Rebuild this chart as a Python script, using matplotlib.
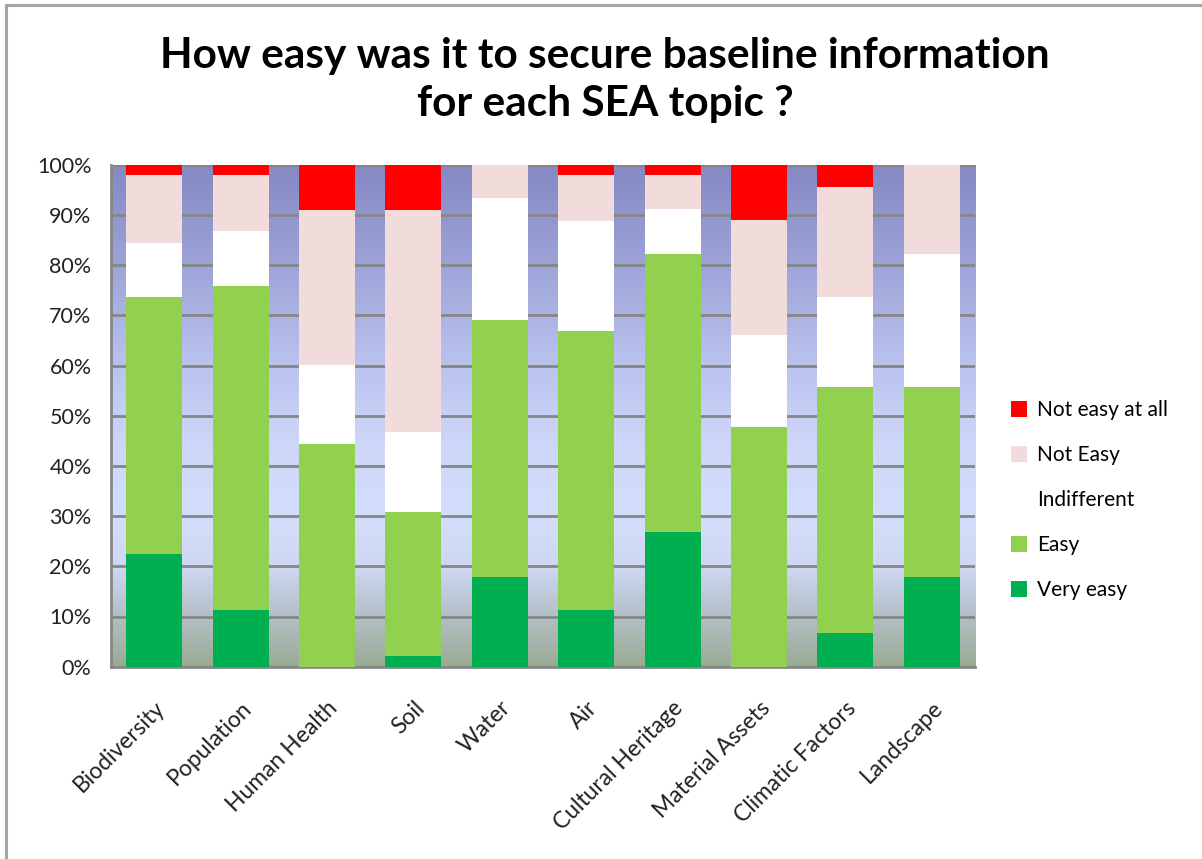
import numpy as np
import matplotlib
matplotlib.use("Agg")
import matplotlib.pyplot as plt
from matplotlib.colors import LinearSegmentedColormap
from matplotlib.patches import Rectangle, Patch

plt.rcParams['font.family'] = ['Lato', 'DejaVu Sans']

# SEA topics and share of answers (percent)
topics = ['Biodiversity', 'Population', 'Human Health', 'Soil', 'Water', 'Air',
          'Cultural Heritage', 'Material Assets', 'Climatic Factors', 'Landscape']
very_easy = [22.4, 11.2, 0.0, 2.2, 17.9, 11.2, 26.8, 0.0, 6.7, 17.9]
easy = [51.2, 64.6, 44.4, 28.7, 51.2, 55.6, 55.4, 47.7, 49.0, 37.8]
indifferent = [10.8, 10.9, 15.7, 15.8, 24.3, 22.0, 8.9, 18.4, 17.9, 26.5]
not_easy = [13.5, 11.2, 30.9, 44.3, 6.6, 9.1, 6.8, 22.8, 22.0, 17.8]
not_easy_at_all = [2.1, 2.1, 9.0, 9.0, 0.0, 2.1, 2.1, 11.1, 4.4, 0.0]

series = [('Very easy', very_easy, '#00B050'),
          ('Easy', easy, '#92D050'),
          ('Indifferent', indifferent, '#FFFFFF'),
          ('Not Easy', not_easy, '#F2DCDB'),
          ('Not easy at all', not_easy_at_all, '#FF0000')]

W, H = 1202, 859
fig = plt.figure(figsize=(W / 100, H / 100), dpi=100)

# outer frame (only left/top edges are visible in the original crop)
fig.patches.append(Rectangle((6 / W, -0.1), 1.2, 1 - 5 / H + 0.1, transform=fig.transFigure,
                             fill=False, edgecolor='#A6A6A6', linewidth=2.2, zorder=0))

ax = fig.add_axes([111 / W, 1 - 666.7 / H, (975 - 111) / W, (666.7 - 164.7) / H])

# gradient background of the plot area
bg = LinearSegmentedColormap.from_list('bg', [
    (0.00, '#9AAB93'), (0.10, '#B3BFC6'), (0.20, '#CED8F4'), (0.30, '#D3DEFC'),
    (0.45, '#CDD6F8'), (0.60, '#BAC3EE'), (0.80, '#9DA4D8'), (1.00, '#8589C4')])
grad = np.linspace(0, 1, 256).reshape(-1, 1)
ax.imshow(grad, cmap=bg, origin='lower', aspect='auto', extent=(-0.5, 9.5, 0, 100), zorder=0)

x = np.arange(len(topics))
bottom = np.zeros(len(topics))
for name, vals, col in series:
    vals = np.array(vals)
    ax.bar(x, vals, width=0.65, bottom=bottom, color=col, label=name, zorder=3, linewidth=0)
    bottom += vals

ax.set_xlim(-0.5, 9.5)
ax.set_ylim(0, 100)
ax.set_yticks(np.arange(0, 101, 10))
ax.set_yticklabels([f'{v}%' for v in range(0, 101, 10)], fontsize=15.5, color='#222222')
ax.yaxis.grid(True, color='#868686', linewidth=2, zorder=1)
ax.set_axisbelow(True)
ax.tick_params(axis='y', length=0, pad=14)
ax.tick_params(axis='x', length=0, pad=22)
ax.set_xticks(x)
ax.set_xticklabels(topics, rotation=45, ha='right', va='top', rotation_mode='anchor',
                   fontsize=16.5, color='#222222')
for s in ['top', 'right']:
    ax.spines[s].set_visible(False)
for s in ['left', 'bottom']:
    ax.spines[s].set_color('#868686')
    ax.spines[s].set_linewidth(2)

fig.text(605 / W, 1 - 80 / H,
         'How easy was it to secure baseline information\nfor each SEA topic ?',
         ha='center', va='center', fontsize=30.5, fontweight='bold', linespacing=1.3)

handles = [Patch(facecolor=c, edgecolor='none', label=n) for n, _, c in series][::-1]
fig.legend(handles=handles, loc='center left', bbox_to_anchor=(992 / W, 1 - 500 / H),
           frameon=False, fontsize=15, handlelength=0.8, handleheight=0.8,
           handletextpad=0.45, labelspacing=1.2)

fig.savefig('out.png', dpi=100, facecolor='white')
